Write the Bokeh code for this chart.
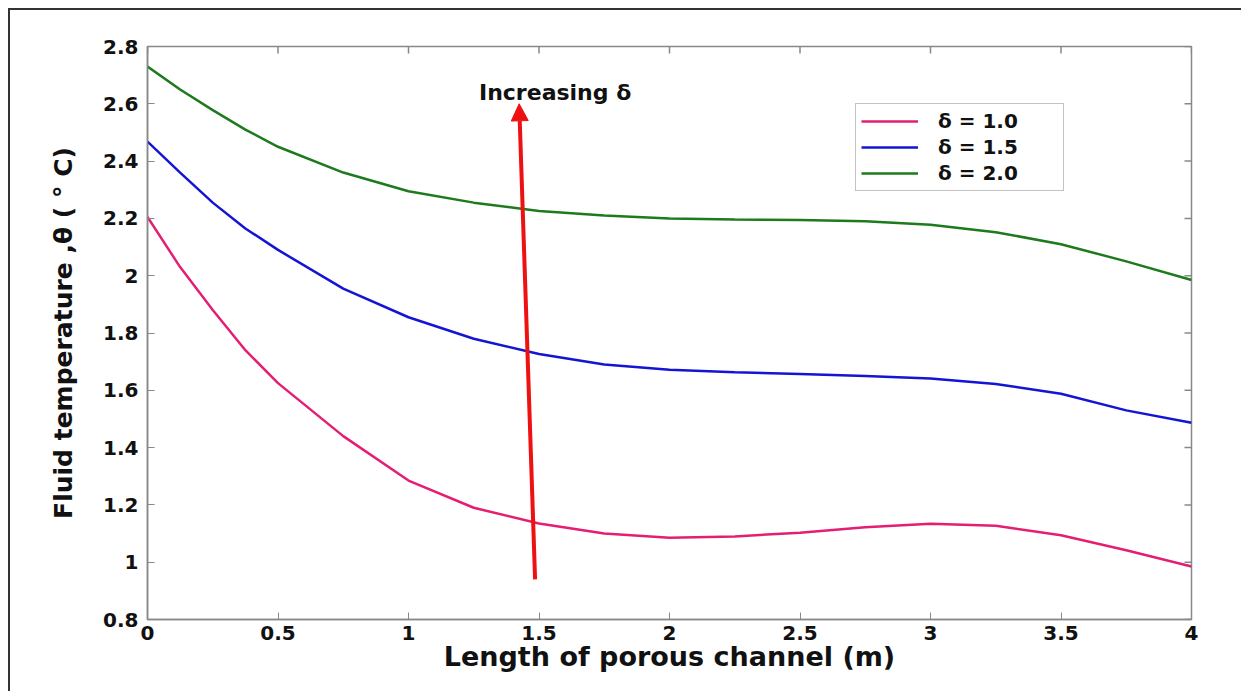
import math
from bokeh.plotting import figure
from bokeh.models import Legend, LegendItem, FixedTicker, Arrow, NormalHead, Range1d
from bokeh.core.properties import value
from bokeh.embed import file_html
from bokeh.resources import INLINE

# ---- data ----
x_vals = [0, 0.125, 0.25, 0.375, 0.5, 0.75, 1.0, 1.25, 1.5, 1.75, 2.0, 2.25, 2.5,
          2.75, 3.0, 3.25, 3.5, 3.75, 4.0]
theta_d10 = [2.205, 2.03, 1.88, 1.74, 1.625, 1.44, 1.285, 1.19, 1.135, 1.10, 1.085,
             1.09, 1.103, 1.122, 1.134, 1.127, 1.094, 1.042, 0.985]
theta_d15 = [2.468, 2.36, 2.255, 2.165, 2.09, 1.955, 1.855, 1.78, 1.727, 1.69, 1.672,
             1.663, 1.657, 1.650, 1.641, 1.622, 1.588, 1.53, 1.487]
theta_d20 = [2.73, 2.65, 2.578, 2.51, 2.45, 2.36, 2.295, 2.255, 2.226, 2.21, 2.20,
             2.196, 2.194, 2.19, 2.178, 2.152, 2.11, 2.05, 1.985]
series_labels = ["δ = 1.0", "δ = 1.5", "δ = 2.0"]

x_ticks = [0, 0.5, 1, 1.5, 2, 2.5, 3, 3.5, 4]
x_tick_labels = ["0", "0.5", "1", "1.5", "2", "2.5", "3", "3.5", "4"]
y_ticks = [0.8, 1.0, 1.2, 1.4, 1.6, 1.8, 2.0, 2.2, 2.4, 2.6, 2.8]
y_tick_labels = ["0.8", "1", "1.2", "1.4", "1.6", "1.8", "2", "2.2", "2.4", "2.6", "2.8"]
x_limits = [0, 4]
y_limits = [0.8, 2.8]

arrow_x = [1.485, 1.424]
arrow_y = [0.94, 2.60]
note_x = [1.27]
note_y = [2.64]
note_text = ["Increasing δ"]

FONT = "DejaVu Sans"
colors = ["#e41f73", "#1414d4", "#1d7a1d"]
GRAY = "#888888"

p = figure(frame_width=1044, frame_height=573,
           min_border_left=137, min_border_right=50,
           min_border_top=36, min_border_bottom=72,
           x_range=Range1d(*x_limits), y_range=Range1d(*y_limits),
           output_backend="svg", toolbar_location=None,
           x_axis_label="Length of porous channel (m)",
           y_axis_label="Fluid temperature ,θ ( ° C)")
p.styles = {"border-top": "2px solid #333", "border-left": "2px solid #333",
            "margin-left": "8px", "margin-top": "8px"}
p.grid.visible = False
p.outline_line_color = GRAY
p.outline_line_width = 1.5
p.background_fill_color = "white"
p.border_fill_color = "white"

for ax in (p.xaxis[0], p.yaxis[0]):
    ax.axis_line_color = GRAY
    ax.axis_line_width = 1.5
    ax.major_tick_line_color = GRAY
    ax.major_tick_in = 7
    ax.major_tick_out = 0
    ax.minor_tick_line_color = None
    ax.major_label_text_font = FONT
    ax.major_label_text_font_style = "bold"
    ax.major_label_text_font_size = "20px"
    ax.major_label_text_color = "#111111"
    ax.axis_label_text_font = FONT
    ax.axis_label_text_font_style = "bold"
    ax.axis_label_text_color = "#111111"

p.xaxis[0].ticker = FixedTicker(ticks=x_ticks)
p.xaxis[0].major_label_overrides = dict(zip(x_ticks, x_tick_labels))
p.xaxis[0].major_label_standoff = 6
p.xaxis[0].axis_label_standoff = -2
p.xaxis[0].axis_label_text_font_size = "27px"

p.yaxis[0].ticker = FixedTicker(ticks=y_ticks)
p.yaxis[0].major_label_overrides = dict(zip(y_ticks, y_tick_labels))
p.yaxis[0].major_label_standoff = 9
p.yaxis[0].axis_label_standoff = 22
p.yaxis[0].axis_label_text_font_size = "25px"

# mirrored inward ticks on the top and right edges of the box
p.ray(x=x_ticks, y=[y_limits[1]] * len(x_ticks), length=7, length_units="screen",
      angle=-math.pi / 2, line_color=GRAY, line_width=1.5)
p.ray(x=[x_limits[1]] * len(y_ticks), y=y_ticks, length=7, length_units="screen",
      angle=math.pi, line_color=GRAY, line_width=1.5)

renderers = []
for ys, c in zip([theta_d10, theta_d15, theta_d20], colors):
    r = p.line(x_vals, ys, line_color=c, line_width=2.5)
    renderers.append(r)

arrow = Arrow(end=NormalHead(size=17, fill_color="#ee1111", line_color="#ee1111"),
              x_start=arrow_x[0], y_start=arrow_y[0], x_end=arrow_x[1], y_end=arrow_y[1],
              line_color="#ee1111", line_width=4)
p.add_layout(arrow)

p.text(x=note_x, y=note_y, text=note_text, text_font=value(FONT),
       text_font_style="bold", text_font_size="22px", text_color="#111111",
       text_baseline="middle", text_align="left")

legend = Legend(items=[LegendItem(label=l, renderers=[r])
                       for l, r in zip(series_labels, renderers)],
                location=(708, 428))
legend.label_text_font = FONT
legend.label_text_font_style = "bold"
legend.label_text_font_size = "20px"
legend.label_text_color = "#111111"
legend.glyph_width = 57
legend.glyph_height = 18
legend.label_height = 18
legend.label_width = 120
legend.label_standoff = 20
legend.spacing = 2
legend.padding = 5
legend.margin = 0
legend.border_line_color = GRAY
legend.border_line_width = 1
legend.background_fill_color = "white"
p.add_layout(legend)

open("out.html", "w").write(file_html(p, INLINE))
